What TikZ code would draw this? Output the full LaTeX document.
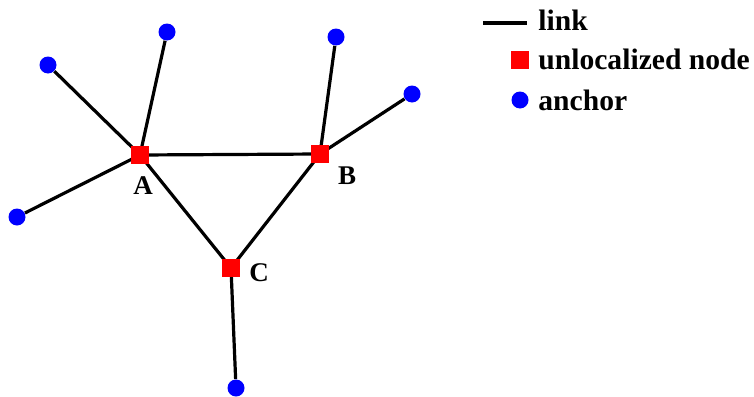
\documentclass[tikz,border=0pt]{standalone}
\usepackage{fontspec}
\setmainfont{Liberation Serif}
\usetikzlibrary{backgrounds}
\definecolor{unlocred}{HTML}{FF0000}
\definecolor{anchorblue}{HTML}{0000FF}
\tikzset{
  unloc/.style={rectangle, fill=unlocred, minimum size=9pt, inner sep=0pt},
  anchornode/.style={circle, fill=anchorblue, minimum size=8.5pt, inner sep=0pt},
  link/.style={line width=1.6pt, black},
  lbl/.style={font=\fontsize{13.5}{15}\selectfont\bfseries, inner sep=0pt},
  legtext/.style={font=\fontsize{14.8}{16}\selectfont\bfseries, inner sep=0pt, anchor=base west},
}
\begin{document}
\begin{tikzpicture}[x=0.5pt, y=-0.5pt]
    \useasboundingbox (0,0) rectangle (754,396);
    % unlocalized nodes
    \node[unloc] (A) at (140,155) {};
    \node[unloc] (B) at (320,154) {};
    \node[unloc] (C) at (231,268) {};
    \node[lbl] (lA) at (143,186) {A};
    \node[lbl] (lB) at (347,176) {B};
    \node[lbl] (lC) at (259,273) {C};
    % anchors
    \node[anchornode] (a1) at (48,65) {};
    \node[anchornode] (a2) at (167,32) {};
    \node[anchornode] (a3) at (17,217) {};
    \node[anchornode] (a4) at (336,37) {};
    \node[anchornode] (a5) at (412,94) {};
    \node[anchornode] (a6) at (236,388) {};
    % links
    \begin{scope}[on background layer]
    \draw[link] (A.center) -- (B.center) -- (C.center) -- (A.center);
    \draw[link] (A.center) -- (a1);
    \draw[link] (A.center) -- (a2);
    \draw[link] (A.center) -- (a3);
    \draw[link] (B.center) -- (a4);
    \draw[link] (B.center) -- (a5);
    \draw[link] (C.center) -- (a6);
    \end{scope}
    % legend
    \coordinate (ls) at (483,23);
    \coordinate (le) at (527,23);
    \draw[link] (ls) -- (le);
    \node[legtext] (tlink) at (538,31) {link};
    \node[unloc] (lsq) at (520,60) {};
    \node[legtext] (tunloc) at (538,69) {unlocalized node};
    \node[anchornode] (ldot) at (520,100) {};
    \node[legtext] (tanchor) at (538,110) {anchor};
  \end{tikzpicture}
\end{document}
